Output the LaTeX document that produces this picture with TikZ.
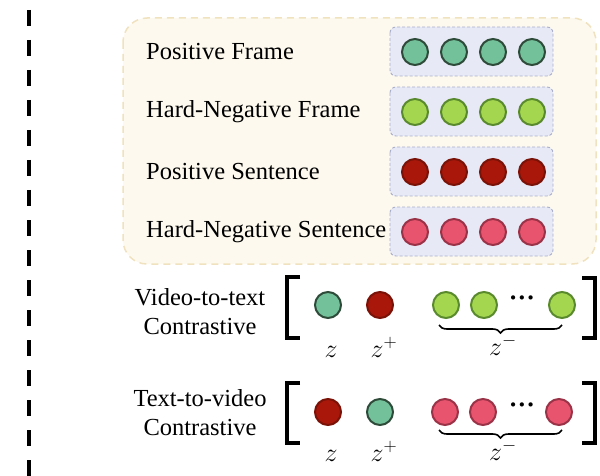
\documentclass[tikz,border=0pt]{standalone}
\usepackage{fix-cm}
\usepackage{fontspec}
\setmainfont{Liberation Serif}
\usetikzlibrary{decorations.pathreplacing}

\definecolor{tealfill}{HTML}{72C19B}
\definecolor{tealline}{HTML}{2E4B3A}
\definecolor{limefill}{HTML}{A5D64F}
\definecolor{limeline}{HTML}{5A8A2E}
\definecolor{redfill}{HTML}{A8170A}
\definecolor{redline}{HTML}{7B1208}
\definecolor{pinkfill}{HTML}{E8546D}
\definecolor{pinkline}{HTML}{9A3347}
\definecolor{panelfill}{HTML}{FDF9EE}
\definecolor{panelline}{HTML}{F0E2BE}
\definecolor{rowfill}{HTML}{E7EAF6}
\definecolor{rowline}{HTML}{A9AECB}

\begin{document}
\begin{tikzpicture}[x=1pt,y=-1pt,
  dot/.style={circle, line width=2pt, minimum size=26pt, inner sep=0pt},
  tealdot/.style={dot, fill=tealfill, draw=tealline},
  limedot/.style={dot, fill=limefill, draw=limeline},
  reddot/.style={dot, fill=redfill, draw=redline},
  pinkdot/.style={dot, fill=pinkfill, draw=pinkline},
  lbl/.style={font=\fontsize{24.5}{29}\selectfont, inner sep=0pt},
  mlbl/.style={font=\fontsize{26}{28}\selectfont, inner sep=0pt, anchor=base},
  ellipsis/.style={font=\fontsize{26}{26}\selectfont\bfseries, inner sep=0pt},
  rowbox/.style={draw=rowline, fill=rowfill, line width=0.9pt,
    dash pattern=on 3pt off 2pt, rounded corners=6pt},
  bracket/.style={line width=3.5pt, line cap=butt},
  underbrace/.style={decorate, line width=1.6pt,
    decoration={brace, amplitude=8pt}},
]
\useasboundingbox (0,0) rectangle (600,476);

% separator on the left
\draw[line width=4pt, dash pattern=on 16pt off 14pt] (29,10) -- (29,476);

% panel holding the four feature rows
\draw[draw=panelline, fill=panelfill, line width=1.5pt,
  dash pattern=on 7pt off 5pt, rounded corners=24pt] (123,18) rectangle (596,264);

% feature rows
\foreach \r/\y/\txt/\sty in {1/52/Positive Frame/tealdot,
                              2/112/Hard-Negative Frame/limedot,
                              3/172/Positive Sentence/reddot,
                              4/232/Hard-Negative Sentence/pinkdot}{
  \node[lbl, anchor=west] (label\r) at (146,\y) {\txt};
  \draw[rowbox] (390,\y-25) rectangle (553,\y+24);
  \foreach \c/\x in {1/415,2/454,3/493,4/532}
    \node[\sty] (d\r\c) at (\x,\y) {};
}

% video-to-text contrastive group
\node[lbl, align=center] (vt) at (200,312) {Video-to-text\\Contrastive};
\draw[bracket] (300,277) -- (287,277) -- (287,338) -- (300,338);
\draw[bracket] (582,278) -- (595,278) -- (595,338) -- (582,338);
\node[tealdot] (vz) at (328,305) {};
\node[reddot] (vzp) at (380,305) {};
\node[limedot] (vn1) at (446,305) {};
\node[limedot] (vn2) at (484,305) {};
\node[ellipsis] (vdots) at (522,301) {···};
\node[limedot] (vn3) at (562,305) {};
\draw[underbrace] (562,325) -- (439,325);
\node[mlbl] (vzl) at (331,357) {$z$};
\node[mlbl] (vzpl) at (384,357) {$z^{+}$};
\node[mlbl] (vznl) at (503,355) {$z^{-}$};

% text-to-video contrastive group
\node[lbl, align=center] (tv) at (200,413) {Text-to-video\\Contrastive};
\draw[bracket] (300,383) -- (287,383) -- (287,443) -- (300,443);
\draw[bracket] (582,383) -- (595,383) -- (595,443) -- (582,443);
\node[reddot] (tz) at (328,412) {};
\node[tealdot] (tzp) at (380,412) {};
\node[pinkdot] (tn1) at (445,412) {};
\node[pinkdot] (tn2) at (483,412) {};
\node[ellipsis] (tdots) at (522,408) {···};
\node[pinkdot] (tn3) at (559,412) {};
\draw[underbrace] (562,430) -- (439,430);
\node[mlbl] (tzl) at (331,461) {$z$};
\node[mlbl] (tzpl) at (384,461) {$z^{+}$};
\node[mlbl] (tznl) at (503,460) {$z^{-}$};
\end{tikzpicture}
\end{document}
